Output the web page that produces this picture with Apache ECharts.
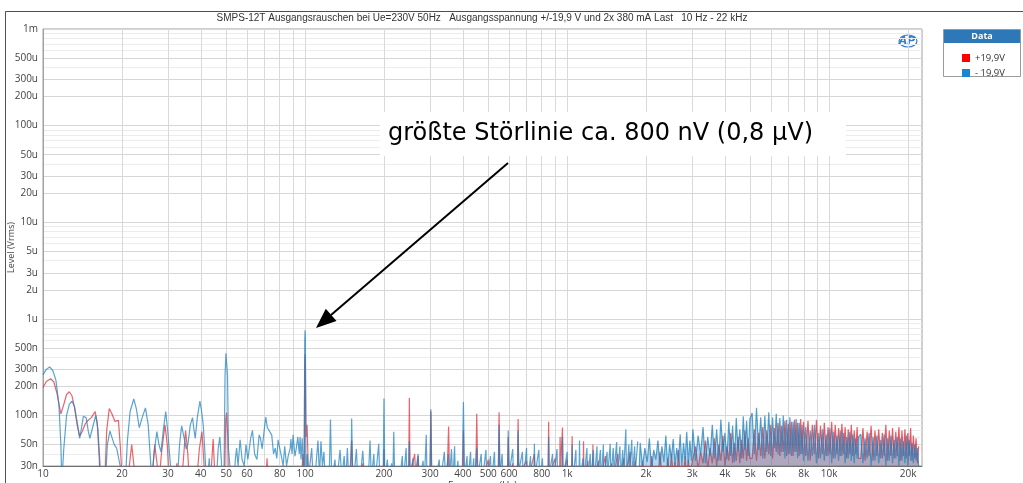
<!DOCTYPE html>
<html><head><meta charset="utf-8">
<script src="https://cdn.jsdelivr.net/npm/echarts@6/dist/echarts.min.js"></script>
<style>html,body{margin:0;padding:0;background:#fff}#c{width:1023px;height:483px}</style>
</head><body><div id="c"></div>
<script>
// ---- Axis ticks (values in nV for level, Hz for frequency) ----
const xGridValues = [10,20,30,40,50,60,70,80,90,100,200,300,400,500,600,700,800,900,1000,2000,3000,4000,5000,6000,7000,8000,9000,10000,20000];
const xLabelValues = [10,20,30,40,50,60,80,100,200,300,400,500,600,800,1000,2000,3000,4000,5000,6000,8000,10000,20000];
const yGridValues = [30,40,50,60,70,80,90,100,200,300,400,500,600,700,800,900,1000,2000,3000,4000,5000,6000,7000,8000,9000,10000,20000,30000,40000,50000,60000,70000,80000,90000,100000,200000,300000,400000,500000,600000,700000,800000,900000,1000000];
const yLabelValues = [30,50,100,200,300,500,1000,2000,3000,5000,10000,20000,30000,50000,100000,200000,300000,500000,1000000];

// ---- Low-frequency region [Hz, nV] ----
const blueLow = [[10,265],[10.3,300],[10.6,318],[10.9,292],[11.2,232],[11.5,130],[11.7,50],[11.8,20],[12.0,45],[12.3,100],[12.6,130],[12.9,141],[13.2,122],[13.5,85],[13.8,58],[14.0,72],[14.25,98],[14.6,95],[14.9,68],[15.1,58],[15.4,72],[15.9,100],[16.2,72],[16.5,32],[16.6,20],[17.3,20],[17.6,50],[18.0,69],[18.3,60],[18.7,50],[19.1,46],[19.4,46],[19.7,30],[19.9,20],[20.6,20],[21.0,55],[21.5,110],[22.2,148],[22.7,118],[23.3,75],[23.9,95],[24.6,120],[25.2,80],[25.8,30],[26.0,20],[26.5,40],[27.2,68],[27.7,50],[28.2,42],[28.8,72],[29.4,110],[29.9,70],[30.5,36],[31.0,20],[32.5,20],[33.2,50],[33.8,78],[34.5,60],[35.2,45],[35.7,50],[36.5,80],[37.2,95],[37.7,70],[38.1,58],[38.8,95],[39.7,141],[40.3,110],[40.9,78],[41.5,40],[42.1,20],[42.6,25],[43.1,36],[43.6,20],[45.8,20],[46.6,45],[47.3,60],[47.9,35],[48.3,20],[49.1,30],[49.5,260],[49.9,440],[50.2,447],[50.6,260],[51.0,46],[51.7,46],[52.3,20],[53.5,20],[54.2,35],[54.8,46],[55.5,30],[56.5,56],[57.5,35],[58.6,30],[59.5,50],[60.5,35],[62.0,58],[63.0,70],[64.2,40],[65.5,35],[66.8,63],[67.6,58],[68.6,45],[69.8,70],[70.8,96],[71.8,75],[73.3,68],[74.6,63],[75.8,40],[76.9,46],[78.0,36],[78.9,56],[80.2,54],[81.5,36],[82.5,30],[83.6,48],[85.0,30],[86.2,38],[87.8,46],[88.3,57],[89.2,40],[90.0,63],[91.5,38],[92.5,45],[93.8,60],[95.0,40],[95.7,60],[96.5,35],[97.5,58],[98.5,30]];
const redLow = [[10,195],[10.3,225],[10.7,240],[11.0,222],[11.3,170],[11.7,104],[12.0,130],[12.3,165],[12.6,176],[12.9,160],[13.2,120],[13.5,80],[13.8,61],[14.1,68],[14.5,82],[14.9,90],[15.3,95],[15.8,110],[16.1,85],[16.4,35],[16.5,20],[17.2,20],[17.5,70],[17.9,118],[18.3,105],[18.8,87],[19.1,86],[19.4,89],[19.7,50],[20.1,20],[21.0,20],[21.8,50],[22.4,25],[22.6,20],[26.0,20],[26.7,50],[27.3,30],[27.7,20],[28.3,40],[29.2,80],[29.8,50],[30.3,20],[31.8,20],[32.4,32],[32.9,20],[33.8,20],[35.0,70],[35.7,40],[36.2,20],[38.5,20],[39.5,45],[40.4,68],[41.2,30],[41.6,20],[43.5,20],[44.6,57],[45.4,20],[49.3,20],[49.8,90],[50.2,107],[50.7,60],[51.0,20],[70.8,20],[71.6,36],[72.4,20],[97,20],[98,40]];

// ---- Mid region spikes [Hz, nV] ----
const blueMid = [[99.2,25],[99.7,600],[100,760],[100.3,600],[100.8,25],[102,40],[103,22],[106,46],[107.5,20],[110,30],[112,55],[113.5,24],[115,54],[116.5,30],[118,42],[119.5,20],[123.5,20],[125,91],[126.5,20],[130,35],[132,20],[136,44],[138,22],[141,38],[143,20],[145,46],[147,20],[149.5,22],[150.6,93],[152,22],[155,30],[157,45],[159,20],[163,25],[166,43],[169,20],[172,30],[174,20],[177,55],[179,22],[183,40],[185,20],[191,51],[193,20],[198.5,20],[200,150],[201.5,20],[206,35],[209,20],[214,32],[216,20],[218,68],[220,20],[226,30],[229,20],[235,38],[237,20],[243,46],[245,20],[248.5,22],[250,54],[251.5,22],[258,36],[261,20],[270,40],[273,20],[282,34],[285,20],[290,63],[292,20],[300,24],[302,116],[304,24],[310,30],[314,20],[325,35],[328,20],[340,42],[344,20],[352,40],[355,20],[362,45],[366,20],[372,48],[375,20],[383,34],[386,20],[398,24],[402,138],[406,22],[415,38],[418,20],[428,42],[432,20],[440,36],[443,20],[452,46],[455,22],[470,40],[474,20],[490,44],[494,20],[510,38],[514,20],[528,42],[532,20],[546,24],[550,80],[554,24],[565,40],[570,20],[592,24],[596,70],[600,24],[620,45],[625,20],[646,26],[650,70],[654,26],[675,42],[680,20],[700,46],[706,20],[725,38],[730,20],[746,24],[750,51],[754,24],[780,44],[786,20],[805,36],[810,20],[846,24],[850,60],[854,24],[880,40],[885,20],[915,45],[920,20],[955,26],[960,60],[965,22],[1000,42],[1006,20],[1040,26],[1045,50],[1050,20],[1080,44],[1086,20],[1110,24],[1115,55],[1120,22],[1150,36],[1156,20],[1190,46],[1196,20],[1225,40],[1232,22],[1260,44],[1268,20],[1300,48],[1306,22],[1340,44],[1348,20],[1375,50],[1382,22],[1420,42],[1428,24],[1460,51],[1468,22],[1500,46],[1510,26],[1545,53],[1555,24],[1590,48],[1600,22],[1630,44],[1640,24],[1675,72],[1685,22],[1720,50],[1730,26],[1765,56],[1775,24],[1810,48],[1820,26],[1860,54]];
const redMid = [[99.2,22],[99.7,330],[100,430],[100.3,330],[100.8,60],[101.8,80],[103,24],[108,20],[118,20],[124,20],[130,30],[133,20],[148,22],[150.6,55],[152.5,20],[160,20],[166,32],[169,20],[188,20],[191,30],[193,20],[199,24],[200,45],[201.5,20],[240,20],[248.5,24],[250,152],[251.5,24],[262,40],[265,20],[270,38],[273,20],[299.5,24],[302,110],[304.5,24],[320,30],[323,20],[348,22],[353,77],[356,22],[400,24],[402,70],[404,22],[448,24],[452,104],[456,24],[470,30],[474,20],[500,35],[504,20],[546,24],[550,108],[554,24],[592,24],[596,60],[600,22],[620,32],[624,20],[646,24],[650,92],[654,24],[700,34],[705,20],[750,40],[755,20],[846,24],[850,86],[854,24],[900,36],[905,20],[936,24],[940,60],[944,30],[960,75],[964,24],[1000,35],[1005,20],[1041,24],[1045,61],[1049,24],[1100,30],[1105,20],[1151,24],[1155,54],[1159,22],[1200,34],[1206,20],[1250,24],[1254,50],[1258,22],[1320,34],[1328,20],[1400,38],[1408,20],[1480,32],[1488,20],[1560,40],[1568,20],[1650,36],[1660,20],[1740,42],[1750,20],[1820,34],[1830,20]];

// ---- High-frequency noise region ----
const hfFreq = [1880,1900,1940,1980,2020,2060,2100,2140,2180,2220,2260,2300,2340,2380,2420,2460,2500,2540,2580,2620,2660,2700,2740,2780,2820,2860,2900,2940,2980,
3020,3090,3160,3230,3300,3370,3440,3510,3580,3650,3720,3790,3860,3930,4000,4070,4140,4210,4280,4350,4420,4490,4560,4630,4700,4770,4840,4910,4980,
5080,5180,5280,5380,5480,5580,5680,5780,5880,5980,6080,6180,6280,6380,6480,6580,6680,6780,6880,6980,7080,7180,7280,7380,7480,7580,7680,7780,7880,7980,
8140,8300,8460,8620,8780,8940,9100,9260,9420,9580,9740,9900,10060,10220,10380,10540,10700,10860,11020,11180,11340,11500,11660,11820,11980,12140,12300,12460,12620,12780,12940,
13200,13450,13700,13950,14200,14450,14700,14950,15200,15450,15700,15950,16200,16450,16700,16950,17200,17450,17700,17950,18200,18450,18700,18950,19200,19450,19700,19950,20200,20450,20700,20950,21200,21450,21700,21950];
const hfBlue = [24,52,30,46,33,58,28,44,35,55,31,48,33,62,29,50,36,57,31,46,34,64,30,52,35,68,32,55,34,
72,34,62,40,76,32,60,38,80,36,72,34,91,42,66,35,86,38,78,33,94,42,72,36,98,44,88,38,92,
106,40,120,44,96,36,100,42,108,38,96,46,104,40,94,42,100,36,90,40,96,38,86,42,92,36,84,40,80,34,
76,34,70,38,80,32,66,36,72,34,64,38,74,32,68,36,62,34,70,38,66,32,60,36,68,34,64,32,58,36,60,
64,32,58,36,66,30,60,34,62,32,56,36,64,30,58,34,62,32,56,36,60,30,58,34,54,32,62,30,56,34,52,32,50,34,46,30];
const hfRed = [22,20,34,22,28,20,38,22,24,20,42,24,30,20,36,22,40,24,33,20,44,22,30,24,38,22,35,24,30,
30,48,28,42,32,55,28,46,32,58,30,50,34,62,30,48,34,66,32,52,34,60,32,56,36,70,34,58,36,
36,72,34,66,38,76,36,70,40,80,36,74,42,84,38,78,42,88,38,82,40,86,38,90,42,84,38,92,40,86,
38,88,34,80,40,90,36,78,40,84,38,76,40,86,36,80,40,74,38,82,40,76,36,72,40,80,38,70,40,76,36,
36,74,34,68,38,78,34,70,38,72,36,66,38,80,34,70,38,74,36,68,38,76,34,70,38,72,36,66,38,74,34,62,36,58,32,48];

const seriesNames = ['+19,9V', '- 19,9V'];
const titleText = 'SMPS-12T Ausgangsrauschen bei Ue=230V 50Hz   Ausgangsspannung +/-19,9 V und 2x 380 mA Last   10 Hz - 22 kHz';
const noteText = 'größte Störlinie ca. 800 nV (0,8 µV)';

function zip(f, v) { const n = Math.min(f.length, v.length); const out = []; for (let i = 0; i < n; i++) out.push([f[i], v[i]]); return out; }
const redData = redLow.concat(redMid);
const blueData = blueLow.concat(blueMid);
const redHF = zip(hfFreq, hfRed);
const blueHF = zip(hfFreq, hfBlue);

function fmtY(v) {
  if (v >= 1e6) return (v / 1e6) + 'm';
  if (v >= 1000) return (v / 1000) + 'u';
  return v + 'n';
}
function fmtX(v) { return v >= 1000 ? (v / 1000) + 'k' : String(v); }

const RED = 'rgba(226,40,52,0.72)';
const BLUE = 'rgba(28,128,190,0.72)';
function lineSeries(name, data, color, z, area) {
  const s = { name: name, type: 'line', data: data, symbol: 'none', showSymbol: false, clip: true, z: z,
    lineStyle: { width: 1.2, color: color }, itemStyle: { color: color } };
  if (area) s.areaStyle = { origin: 'start', color: color, opacity: 0.45 };
  return s;
}

const chart = echarts.init(document.getElementById('c'), null, { renderer: 'canvas' });
const axisFont = 'Open Sans, Noto Sans, sans-serif';
const option = {
  animation: false,
  backgroundColor: '#fff',
  grid: { left: 43, top: 29, width: 879, height: 437, containLabel: false, outerBoundsMode: 'none', show: true, borderColor: '#a0a0a0', borderWidth: 1, backgroundColor: 'transparent' },
  legend: {
    orient: 'vertical', left: 957, top: 48, itemWidth: 8, itemHeight: 8, itemGap: 5, icon: 'rect',
    textStyle: { fontSize: 9.5, color: '#333', fontFamily: axisFont, lineHeight: 9 },
    data: [{ name: seriesNames[0], itemStyle: { color: '#ff0000' } }, { name: seriesNames[1], itemStyle: { color: '#1a86d0' } }],
    selectedMode: false
  },
  xAxis: [{
    type: 'log', min: 10, max: 22600, logBase: 10,
    name: 'Frequency (Hz)', nameLocation: 'middle', nameGap: 15, nameMoveOverlap: false,
    nameTextStyle: { fontSize: 10, color: '#444', fontFamily: axisFont },
    axisLine: { show: true, lineStyle: { color: '#707070' } },
    axisTick: { show: false, customValues: xGridValues },
    axisLabel: { customValues: xLabelValues, formatter: fmtX, fontSize: 10, color: '#444', margin: 3, fontFamily: axisFont },
    splitLine: { show: true, lineStyle: { color: '#d9d9d9', width: 1 } },
    minorTick: { show: false }, minorSplitLine: { show: false }
  }],
  yAxis: [{
    type: 'log', min: 30, max: 1000000, logBase: 10,
    name: 'Level (Vrms)', nameLocation: 'middle', nameGap: 27, nameRotate: 90, nameMoveOverlap: false,
    nameTextStyle: { fontSize: 9, color: '#444', fontFamily: axisFont },
    axisLine: { show: true, lineStyle: { color: '#a0a0a0' } },
    axisTick: { show: false, customValues: yGridValues },
    axisLabel: { customValues: yLabelValues, formatter: fmtY, fontSize: 10, color: '#444', margin: 5, fontFamily: axisFont },
    splitLine: { show: true, lineStyle: { color: '#ececec', width: 1 } }
  }, {
    type: 'log', min: 30, max: 1000000, logBase: 10, position: 'left',
    axisLine: { show: false }, axisLabel: { show: false },
    axisTick: { show: false, customValues: yLabelValues },
    splitLine: { show: true, lineStyle: { color: '#d6d6d6', width: 1 } }
  }],
  series: [
    lineSeries(seriesNames[0], redData, RED, 2, false),
    lineSeries(seriesNames[0], redHF, RED, 2, true),
    lineSeries(seriesNames[1], blueData, BLUE, 3, false),
    lineSeries(seriesNames[1], blueHF, BLUE, 3, true)
  ],
  graphic: [
    { type: 'rect', silent: true, z: -10, shape: { x: 5.5, y: 11.5, width: 1200, height: 600 }, style: { fill: 'none', stroke: '#505050', lineWidth: 1 } },
    { type: 'text', silent: true, x: 482, y: 18, style: { text: titleText, fontSize: 10, fill: '#333', fontFamily: 'Liberation Sans, Arial, sans-serif', align: 'center', verticalAlign: 'middle' } },
    { type: 'text', silent: true, x: 907, y: 41, style: { text: 'AP', fontSize: 11, fontStyle: 'italic', fontWeight: 'bold', fill: '#2f7fd0', fontFamily: 'DejaVu Sans, sans-serif', align: 'center', verticalAlign: 'middle' } },
    { type: 'ellipse', silent: true, shape: { cx: 908, cy: 41, rx: 9, ry: 6 }, style: { fill: 'none', stroke: '#2f7fd0', lineWidth: 1.2 } },
    { type: 'rect', silent: true, z: 1, shape: { x: 943.5, y: 29.5, width: 77, height: 47 }, style: { fill: '#fff', stroke: '#9a9a9a', lineWidth: 1 } },
    { type: 'rect', silent: true, z: 2, shape: { x: 944, y: 30, width: 76, height: 13 }, style: { fill: '#2f78b8' } },
    { type: 'text', silent: true, z: 3, x: 982, y: 36.5, style: { text: 'Data', fontSize: 9, fontWeight: 'bold', fill: '#fff', fontFamily: axisFont, align: 'center', verticalAlign: 'middle' } },
    { type: 'rect', silent: true, z: 100, shape: { x: 380, y: 112, width: 466, height: 44 }, style: { fill: '#fff' } },
    { type: 'text', silent: true, z: 101, x: 388, y: 134, style: { text: noteText, fontSize: 24, fill: '#000', fontFamily: 'DejaVu Sans, sans-serif', align: 'left', verticalAlign: 'middle' } },
    { type: 'line', silent: true, z: 101, shape: { x1: 508, y1: 163, x2: 331, y2: 315 }, style: { stroke: '#000', lineWidth: 2 } },
    { type: 'polygon', silent: true, z: 101, shape: { points: [[316, 328], [336.5, 320.9], [325.8, 308.8]] }, style: { fill: '#000' } }
  ]
};
chart.setOption(option);
</script></body></html>
